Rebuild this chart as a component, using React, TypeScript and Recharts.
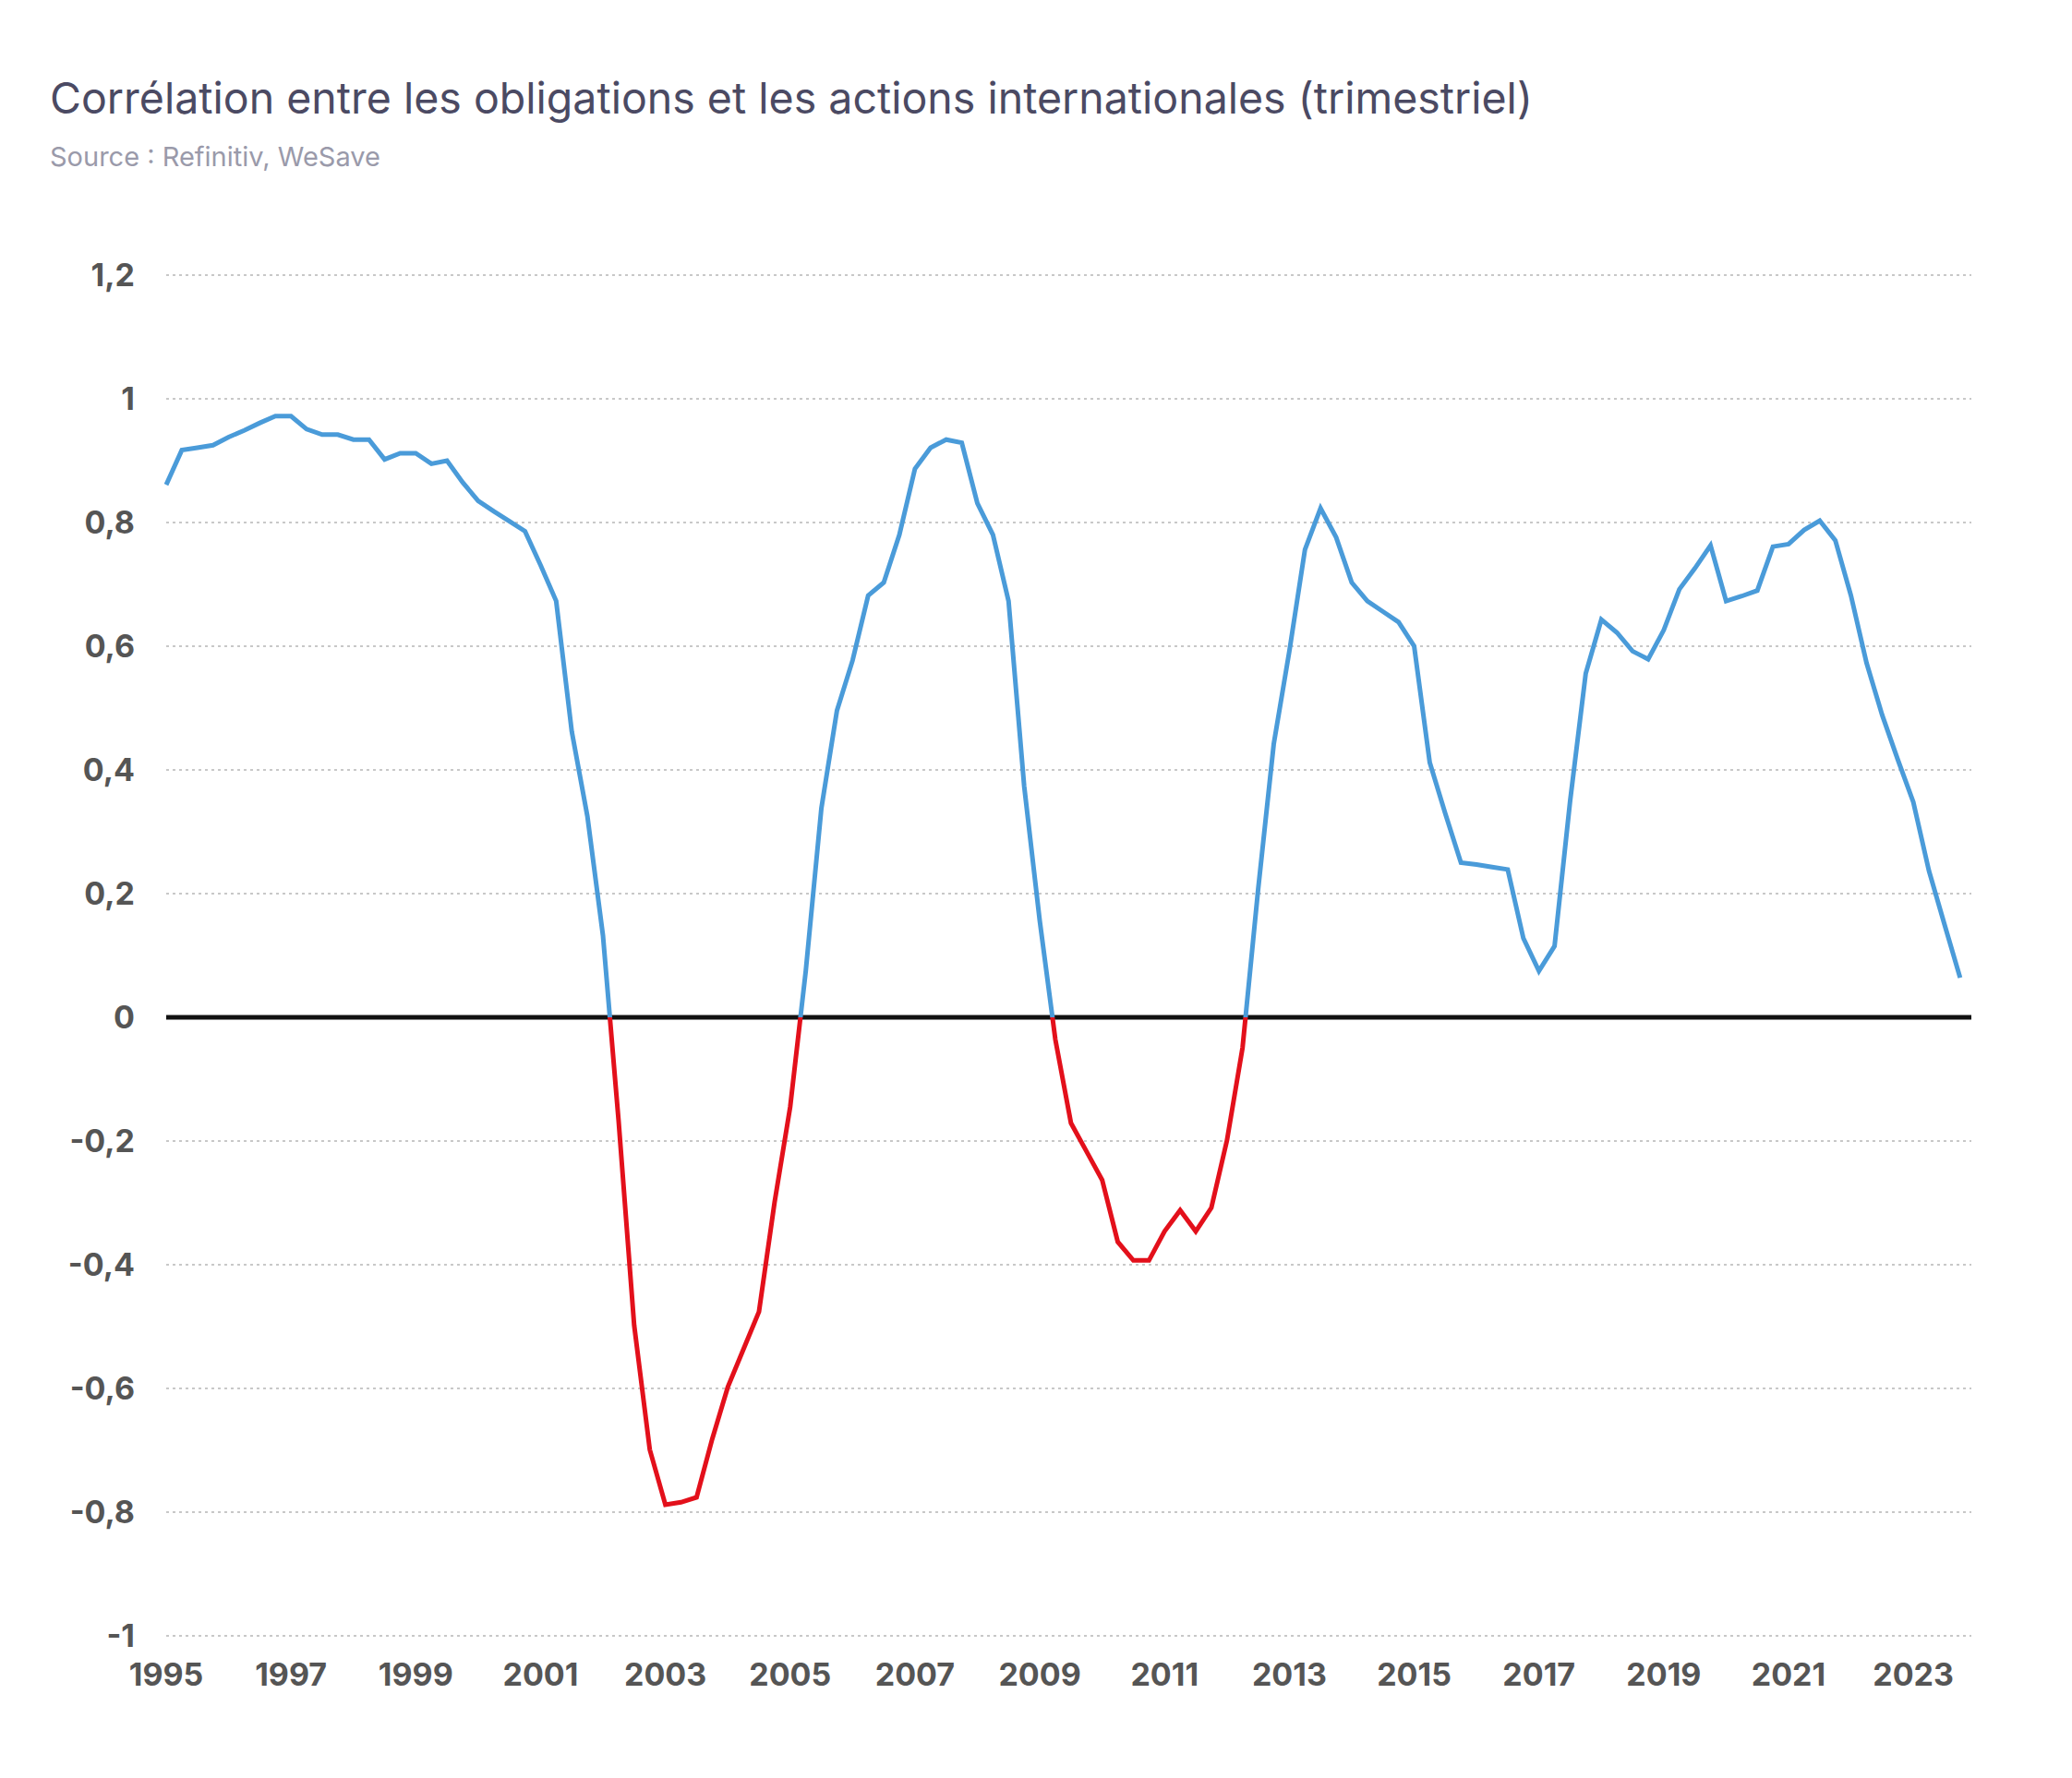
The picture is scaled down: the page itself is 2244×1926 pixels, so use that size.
import { LineChart, Line, XAxis, YAxis, CartesianGrid, ReferenceLine } from 'recharts';

const quarters = [
  1995, 1995.25, 1995.5, 1995.75, 1996, 1996.25, 1996.5, 1996.75, 1997, 1997.25, 1997.5, 1997.75,
  1998, 1998.25, 1998.5, 1998.75, 1999, 1999.25, 1999.5, 1999.75, 2000, 2000.25, 2000.5, 2000.75,
  2001, 2001.25, 2001.5, 2001.75, 2002, 2002.25, 2002.5, 2002.75, 2003, 2003.25, 2003.5, 2003.75,
  2004, 2004.25, 2004.5, 2004.75, 2005, 2005.25, 2005.5, 2005.75, 2006, 2006.25, 2006.5, 2006.75,
  2007, 2007.25, 2007.5, 2007.75, 2008, 2008.25, 2008.5, 2008.75, 2009, 2009.25, 2009.5, 2009.75,
  2010, 2010.25, 2010.5, 2010.75, 2011, 2011.25, 2011.5, 2011.75, 2012, 2012.25, 2012.5, 2012.75,
  2013, 2013.25, 2013.5, 2013.75, 2014, 2014.25, 2014.5, 2014.75, 2015, 2015.25, 2015.5, 2015.75,
  2016, 2016.25, 2016.5, 2016.75, 2017, 2017.25, 2017.5, 2017.75, 2018, 2018.25, 2018.5, 2018.75,
  2019, 2019.25, 2019.5, 2019.75, 2020, 2020.25, 2020.5, 2020.75, 2021, 2021.25, 2021.5, 2021.75,
  2022, 2022.25, 2022.5, 2022.75, 2023, 2023.25, 2023.5, 2023.75,
];

const correlation = [
  0.861, 0.917, 0.921, 0.925, 0.938, 0.949, 0.961, 0.972, 0.972, 0.951, 0.942, 0.942,
  0.934, 0.934, 0.902, 0.912, 0.912, 0.895, 0.9, 0.865, 0.835, 0.818, 0.802, 0.786,
  0.731, 0.673, 0.462, 0.325, 0.132, -0.167, -0.498, -0.699, -0.788, -0.784, -0.776, -0.682,
  -0.598, -0.537, -0.476, -0.299, -0.145, 0.075, 0.338, 0.496, 0.577, 0.682, 0.703, 0.78,
  0.887, 0.921, 0.934, 0.929, 0.831, 0.78, 0.673, 0.374, 0.156, -0.036, -0.171, -0.217,
  -0.263, -0.363, -0.393, -0.393, -0.346, -0.312, -0.346, -0.308, -0.199, -0.049, 0.207, 0.442,
  0.592, 0.756, 0.823, 0.776, 0.703, 0.673, 0.656, 0.639, 0.6, 0.412, 0.329, 0.25,
  0.247, 0.243, 0.239, 0.128, 0.075, 0.115, 0.35, 0.556, 0.643, 0.622, 0.592, 0.579,
  0.626, 0.692, 0.726, 0.763, 0.673, 0.681, 0.69, 0.761, 0.765, 0.788, 0.803, 0.771,
  0.682, 0.573, 0.489, 0.417, 0.348, 0.237, 0.15, 0.064,
];

const xTicks = [1995, 1997, 1999, 2001, 2003, 2005, 2007, 2009, 2011, 2013, 2015, 2017, 2019, 2021, 2023];
const yTicks = [-1, -0.8, -0.6, -0.4, -0.2, 0, 0.2, 0.4, 0.6, 0.8, 1, 1.2];

const data = quarters.map((q, i) => ({ q, v: correlation[i] }));
const maxV = Math.max(...correlation);
const minV = Math.min(...correlation);
const zeroOffset = maxV / (maxV - minV);

const fmt = (v: number) => String(Math.round(v * 10) / 10).replace('.', ',');

export default function App() {
  return (
    <div style={{ position: 'relative', width: 2244, height: 1926, margin: -8, background: '#fff', fontFamily: 'Inter, sans-serif' }}>
      <div style={{ position: 'absolute', left: 2, top: 2, width: 2234, height: 1916, border: '4px solid #e8e8e8' }} />
      <div style={{ position: 'absolute', left: 54, top: 78, fontSize: 46.5, color: '#4b4a63' }}>
        Corrélation entre les obligations et les actions internationales (trimestriel)
      </div>
      <div style={{ position: 'absolute', left: 54, top: 152, fontSize: 29, color: '#9a9aaa' }}>
        Source : Refinitiv, WeSave
      </div>
      <div style={{ position: 'absolute', left: 0, top: 0 }}>
        <LineChart width={2244} height={1926} data={data} margin={{ top: 298, right: 109, bottom: 124, left: 70 }}>
          <defs>
            <linearGradient id="split" x1="0" y1="0" x2="0" y2="1">
              <stop offset={zeroOffset} stopColor="#4a9bd9" />
              <stop offset={zeroOffset} stopColor="#e3101b" />
            </linearGradient>
          </defs>
          <CartesianGrid vertical={false} strokeDasharray="3 4" stroke="#c8c8c8" strokeWidth={2} />
          <XAxis
            dataKey="q"
            type="number"
            domain={[1995, 2023.93]}
            ticks={xTicks}
            axisLine={false}
            tickLine={false}
            tickMargin={24}
            tick={{ fontSize: 34, fontWeight: 700, fill: '#555', fontFamily: 'Inter, sans-serif' }}
          />
          <YAxis
            type="number"
            domain={[-1, 1.2]}
            ticks={yTicks}
            width={110}
            axisLine={false}
            tickLine={false}
            tickSize={0}
            tickMargin={34}
            tickFormatter={fmt}
            tick={{ fontSize: 34, fontWeight: 700, fill: '#555', fontFamily: 'Inter, sans-serif' }}
          />
          <ReferenceLine y={0} stroke="#111" strokeWidth={5} />
          <Line
            type="linear"
            dataKey="v"
            stroke="url(#split)"
            strokeWidth={5}
            dot={false}
            isAnimationActive={false}
          />
        </LineChart>
      </div>
    </div>
  );
}
